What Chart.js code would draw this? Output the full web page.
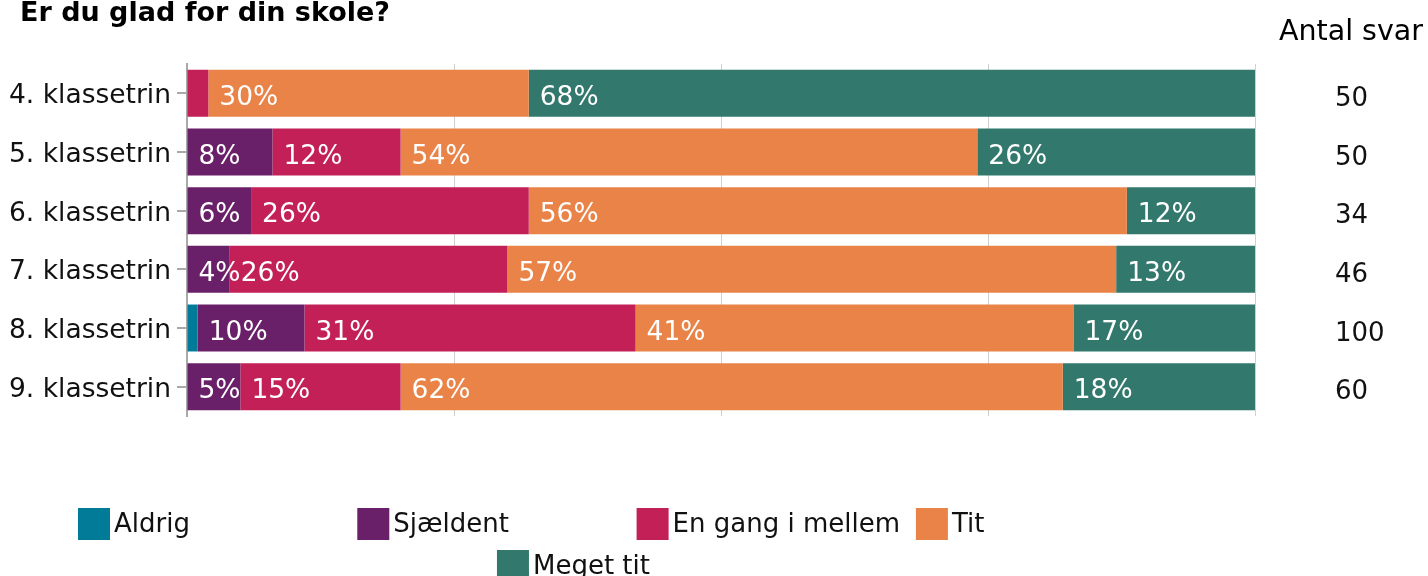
<!DOCTYPE html>
<html>
<head>
<meta charset="utf-8">
<script src="https://cdn.jsdelivr.net/npm/chart.js@4/dist/chart.umd.min.js"></script>
<style>
  body { margin: 0; background: #fff; }
  #wrap { width: 1428px; height: 576px; position: relative; }
</style>
</head>
<body>
<div id="wrap"><canvas id="myChart01"></canvas></div>
<script>
var FONT = "'DejaVu Sans', Verdana, sans-serif";

var categories = ["4. klassetrin", "5. klassetrin", "6. klassetrin", "7. klassetrin", "8. klassetrin", "9. klassetrin"];
var antalSvar = [50, 50, 34, 46, 100, 60];

var aldrig    = [0, 0, 0, 0, 1, 0];
var sjaeldent = [0, 8, 6, 4, 10, 5];
var enGang    = [2, 12, 26, 26, 31, 15];
var tit       = [30, 54, 56, 57, 41, 62];
var megetTit  = [68, 26, 12, 13, 17, 18];

var seriesNames = ["Aldrig", "Sjældent", "En gang i mellem", "Tit", "Meget tit"];
var seriesColors = ["#027b98", "#6a2068", "#c32057", "#e98347", "#32786c"];
var seriesValues = [aldrig, sjaeldent, enGang, tit, megetTit];

// percent labels inside each segment, left aligned
var segmentLabels = {
    id: "segmentLabels",
    afterDatasetsDraw: function (chart) {
        var ctx = chart.ctx;
        ctx.save();
        ctx.font = "26.5px " + FONT;
        ctx.fillStyle = "#fff";
        ctx.textAlign = "left";
        ctx.textBaseline = "alphabetic";
        chart.data.datasets.forEach(function (ds, i) {
            var meta = chart.getDatasetMeta(i);
            meta.data.forEach(function (bar, j) {
                var v = ds.data[j];
                if (v < 3) return;
                var start = Math.min(bar.x, bar.base);
                ctx.fillText(v + "%", start + 11, bar.y + 11.5);
            });
        });
        ctx.restore();
    }
};

// heading, column caption and the legend grid under the plot
var extras = {
    id: "extras",
    afterDraw: function (chart) {
        var ctx = chart.ctx;
        ctx.save();
        ctx.fillStyle = "#000";
        ctx.textBaseline = "alphabetic";
        ctx.font = "bold 27px " + FONT;
        ctx.textAlign = "left";
        ctx.fillText("Er du glad for din skole?", 20, 21);
        ctx.font = "28.5px " + FONT;
        ctx.textAlign = "right";
        ctx.fillText("Antal svar", 1423, 40);

        var colW = 279.3, startX = 78, rowY = 508, rowH = 42, box = 32, perRow = 4;
        ctx.font = "26px " + FONT;
        ctx.textAlign = "left";
        ctx.textBaseline = "middle";
        var items = chart.data.datasets;
        items.forEach(function (ds, i) {
            var row = Math.floor(i / perRow);
            var col = i % perRow;
            var inRow = Math.min(perRow, items.length - row * perRow);
            var x = startX + col * colW + (perRow - inRow) * colW / 2;
            var y = rowY + row * rowH;
            ctx.fillStyle = ds.backgroundColor;
            ctx.fillRect(x, y, box, box);
            ctx.fillStyle = "#111";
            ctx.fillText(ds.label, x + box + 4, y + box / 2 + 1);
        });
        ctx.restore();
    }
};

var chartPlaceholder01 = document.getElementById("myChart01");
var newChart01 = new Chart(chartPlaceholder01, {
    type: "bar",
    data: {
        labels: categories,
        datasets: seriesNames.map(function (name, i) {
            return {
                label: name,
                data: seriesValues[i],
                backgroundColor: seriesColors[i],
                borderWidth: 0,
                barPercentage: 1.0,
                categoryPercentage: 0.8
            };
        })
    },
    options: {
        indexAxis: "y",
        responsive: true,
        maintainAspectRatio: false,
        animation: false,
        layout: { padding: { top: 64, bottom: 160, left: 0, right: 0 } },
        plugins: {
            legend: { display: false },
            title: { display: false },
            tooltip: { enabled: false }
        },
        scales: {
            x: {
                stacked: true,
                min: 0,
                max: 100,
                ticks: { display: false, stepSize: 25 },
                grid: { color: "#cfcfcf", drawTicks: false },
                border: { display: false },
                afterFit: function (s) { s.height = 0; }
            },
            y: {
                stacked: true,
                position: "left",
                grid: { drawOnChartArea: false, offset: false, drawTicks: true, tickLength: 10, color: "#a9a9a9", lineWidth: 2 },
                border: { color: "#a9a9a9", width: 2 },
                ticks: { color: "#111", padding: 6, labelOffset: 3, font: { family: FONT, size: 26.5 } },
                afterFit: function (s) { s.width = 187; }
            },
            y2: {
                type: "category",
                position: "right",
                labels: antalSvar.map(String),
                offset: true,
                // hidden tick marks only push the labels away from the plot
                grid: { display: false, drawTicks: true, tickLength: 80 },
                border: { display: false },
                ticks: { color: "#111", padding: 0, labelOffset: 6, font: { family: FONT, size: 26 } },
                afterFit: function (s) { s.width = 173; }
            }
        }
    },
    plugins: [segmentLabels, extras]
});
</script>
</body>
</html>
